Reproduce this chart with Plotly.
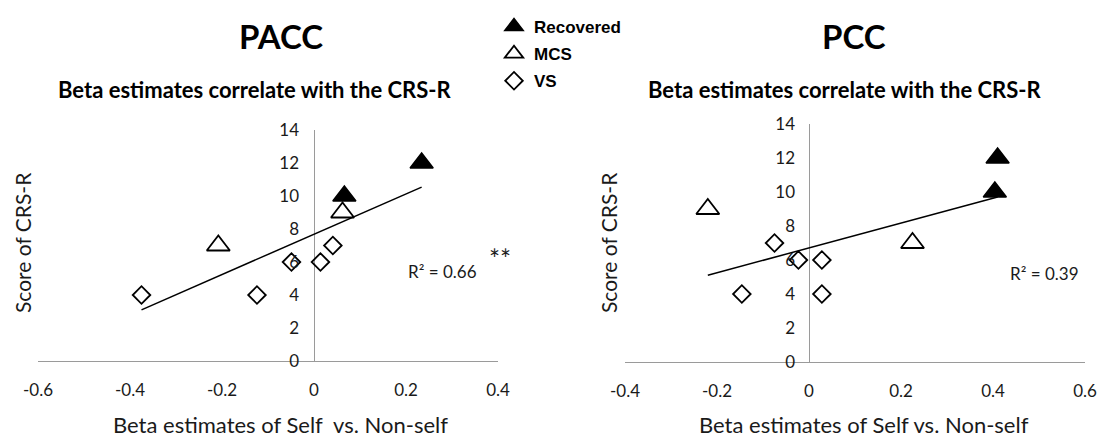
import numpy as np
import plotly.graph_objects as go

# ---------------- data ----------------
groups = ["Recovered", "MCS", "VS"]

pacc_rec_x = [0.234, 0.066]
pacc_rec_y = [12, 10]
pacc_mcs_x = [0.062, -0.208]
pacc_mcs_y = [9, 7]
pacc_vs_x = [-0.375, -0.124, -0.049, 0.014, 0.041]
pacc_vs_y = [4, 4, 6, 6, 7]

pcc_rec_x = [0.410, 0.404]
pcc_rec_y = [12, 10]
pcc_mcs_x = [-0.220, 0.225]
pcc_mcs_y = [9, 7]
pcc_vs_x = [-0.075, -0.023, 0.028, -0.146, 0.028]
pcc_vs_y = [7, 6, 6, 4, 4]

pacc_xticks = [-0.6, -0.4, -0.2, 0, 0.2, 0.4]
pacc_xticklabels = ["-0.6", "-0.4", "-0.2", "0", "0.2", "0.4"]
pcc_xticks = [-0.4, -0.2, 0, 0.2, 0.4, 0.6]
pcc_xticklabels = ["-0.4", "-0.2", "0", "0.2", "0.4", "0.6"]
yticks = [0, 2, 4, 6, 8, 10, 12, 14]

titles = ["PACC", "PCC"]
subtitle = "Beta estimates correlate with the CRS-R"
ytitle = "Score of CRS-R"
xtitles = ["Beta estimates of Self\u00a0 vs. Non-self", "Beta estimates of Self vs. Non-self"]
r2_labels = ["R\u00b2 = 0.66", "R\u00b2 = 0.39"]
sig_label = "**"

# ---------------- styling ----------------
FONT = "Lato"
AX_COL = "#9a9a9a"
TXT_COL = "#1a1a1a"

styles = {
    "Recovered": dict(symbol="triangle-up", size=20, color="black",
                      line=dict(color="black", width=1.5)),
    "MCS": dict(symbol="triangle-up-open", size=20, color="black",
                line=dict(color="black", width=1.8)),
    "VS": dict(symbol="diamond-open", size=13.5, color="black",
               line=dict(color="black", width=1.8)),
}

fig = go.Figure()

panels = [
    ("x", "y", [(pacc_rec_x, pacc_rec_y), (pacc_mcs_x, pacc_mcs_y), (pacc_vs_x, pacc_vs_y)], True),
    ("x2", "y2", [(pcc_rec_x, pcc_rec_y), (pcc_mcs_x, pcc_mcs_y), (pcc_vs_x, pcc_vs_y)], False),
]

for xa, ya, series, show in panels:
    allx = np.concatenate([np.array(s[0], float) for s in series])
    ally = np.concatenate([np.array(s[1], float) for s in series])
    slope, intercept = np.polyfit(allx, ally, 1)
    tx = np.array([allx.min(), allx.max()])
    fig.add_trace(go.Scatter(x=tx, y=slope * tx + intercept, mode="lines",
                             line=dict(color="black", width=1.5),
                             xaxis=xa, yaxis=ya, showlegend=False, hoverinfo="skip"))
    for g, (sx, sy) in zip(groups, series):
        fig.add_trace(go.Scatter(x=sx, y=sy, mode="markers", name=g,
                                 marker=styles[g], xaxis=xa, yaxis=ya,
                                 showlegend=show, legendgroup=g))

W, H = 1099, 438

def px(v):
    return v / W

def py(v):
    return 1 - v / H

common_x = dict(showgrid=False, showline=True, linecolor=AX_COL, linewidth=1,
                zeroline=True, zerolinecolor=AX_COL, zerolinewidth=1,
                ticks="", ticklabelstandoff=14, automargin=False,
                tickfont=dict(family=FONT, size=17, color=TXT_COL))
common_y = dict(showgrid=False, showline=False, zeroline=False, ticks="",
                range=[0, 14], tickvals=yticks, ticklabelstandoff=14, automargin=False,
                tickfont=dict(family=FONT, size=17, color=TXT_COL))

fig.update_layout(
    template="none",
    width=W, height=H,
    margin=dict(l=0, r=0, t=0, b=0, pad=0),
    paper_bgcolor="white", plot_bgcolor="white",
    xaxis=dict(domain=[px(38), px(498)], range=[-0.6, 0.4], anchor="y",
               tickvals=pacc_xticks, ticktext=pacc_xticklabels, **common_x),
    yaxis=dict(domain=[py(361), py(130)], anchor="free", position=px(313), **common_y),
    xaxis2=dict(domain=[px(625), px(1085)], range=[-0.4, 0.6], anchor="y2",
                tickvals=pcc_xticks, ticktext=pcc_xticklabels, **common_x),
    yaxis2=dict(domain=[py(362), py(124)], anchor="free", position=px(809), **common_y),
    legend=dict(x=px(494), y=py(9), xanchor="left", yanchor="top",
                bgcolor="rgba(0,0,0,0)", itemwidth=30, tracegroupgap=2,
                font=dict(family="Liberation Sans", size=17, color="black", weight="bold")),
    showlegend=True,
)

def note(text, x, y, size, angle=0, color=TXT_COL):
    return dict(text=text, x=px(x), y=py(y), xref="paper", yref="paper",
                xanchor="center", yanchor="middle", textangle=angle,
                showarrow=False, font=dict(family=FONT, size=size, color=color))

ann = []
for t, cx in zip(titles, [281, 854]):
    ann.append(note(f"<b>{t}</b>", cx, 36, 33, color="black"))
for cx in [254, 844]:
    ann.append(note(f"<b>{subtitle}</b>", cx, 90, 22, color="black"))
for cx in [22, 608]:
    ann.append(note(ytitle, cx, 243, 21, angle=-90))
for t, cx in zip(xtitles, [280, 864]):
    ann.append(note(t, cx, 424, 22))
for t, cx, cy in zip(r2_labels, [442, 1044], [271, 273]):
    ann.append(note(t, cx, cy, 17))
ann.append(note(sig_label, 500, 259, 26))
fig.update_layout(annotations=ann)

# remove the default 8px page margin so the figure fills the 1099x438 window exactly
fig.write_html("out.html",
               config={"displayModeBar": False},
               post_script="document.body.style.margin='0px';document.body.style.overflow='hidden';")
